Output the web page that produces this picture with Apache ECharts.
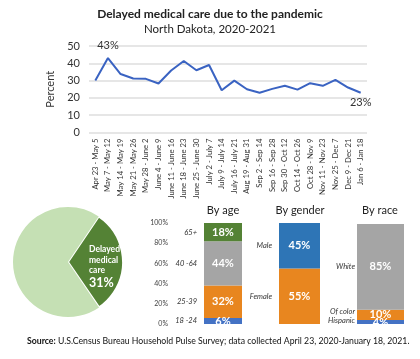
<!DOCTYPE html>
<html><head><meta charset="utf-8">
<script src="https://cdn.jsdelivr.net/npm/echarts@6/dist/echarts.min.js"></script>
<style>html,body{margin:0;padding:0;background:#fff}#c{width:420px;height:359px}</style>
</head><body><div id="c"></div>
<script>
const weeks = ["Apr 23 - May 5","May 7 - May 12","May 14 - May 19","May 21 - May 26","May 28 - June 2","June 4 - June 9","June 11 - June 16","June 18 - June 23","June 25 - June 30","July 2 - July 7","July 9 - July 14","July 16 - July 21","Aug 19 - Aug 31","Sep 2 - Sep 14","Sep 16 - Sep 28","Sep 30 - Oct 12","Oct 14 - Oct 26","Oct 28 - Nov 9","Nov 11 - Nov 23","Nov 25 - Dec 7","Dec 9 - Dec 21","Jan 6 - Jan 18"];
const delayedPct = [30, 43, 33.8, 31.2, 31, 28.3, 35.8, 41.3, 36, 39, 24.4, 30, 25, 23, 25.2, 27, 24.8, 28.5, 27, 30.4, 26, 23];
const labeledPoints = [1, 21];
const yTicks = [0, 10, 20, 30, 40, 50];

const pieNames = ["Delayed medical care", "Not delayed"];
const pieValues = [31, 69];

const ageGroups = ["18 -24", "25-39", "40 -64", "65+"];
const ageValues = [6, 32, 44, 18];
const genderGroups = ["Female", "Male"];
const genderValues = [55, 45];
const raceGroups = ["Hispanic", "Of color", "White"];
const raceValues = [4, 10, 85];
const pctTicks = [0, 20, 40, 60, 80, 100];

const F = 'Lato, "Open Sans", sans-serif';
const ageColors = ['#4472c4', '#e8861f', '#a5a5a5', '#548235'];
const genderColors = ['#e8861f', '#2e75b6'];
const raceColors = ['#4472c4', '#e8861f', '#a5a5a5'];

const chart = echarts.init(document.getElementById('c'), null, {renderer: 'canvas'});

const barGrids = [
  {left: 204, width: 38},
  {left: 279, width: 41},
  {left: 357, width: 47}
];
const groups = [
  {names: ageGroups, vals: ageValues, colors: ageColors, dist: 7, offs: [0,0,0,0]},
  {names: genderGroups, vals: genderValues, colors: genderColors, dist: 7, offs: [0,0]},
  {names: raceGroups, vals: raceValues, colors: raceColors, dist: 2, offs: [-1,-3,0]}
];

const grid = [{left: 89, right: 53, top: 46, height: 86.5}];
const xAxis = [{
  gridIndex: 0, type: 'category', data: weeks, boundaryGap: true,
  axisLine: {show: false}, axisTick: {show: false},
  axisLabel: {rotate: 90, fontSize: 7.7, fontFamily: F, color: '#333', margin: 6, interval: 0}
}];
const yAxis = [{
  gridIndex: 0, type: 'value', min: yTicks[0], max: yTicks[yTicks.length-1], interval: 10,
  name: 'Percent', nameLocation: 'middle', nameGap: 24, nameRotate: 90,
  nameTextStyle: {fontFamily: F, fontSize: 11, color: '#333'},
  axisLine: {show: false}, axisTick: {show: false},
  axisLabel: {fontFamily: F, fontSize: 11, color: '#333', margin: 9},
  splitLine: {lineStyle: {color: '#dedede', width: 1.5}}
}];
const series = [{
  type: 'line', xAxisIndex: 0, yAxisIndex: 0,
  data: delayedPct.map((v, i) => labeledPoints.includes(i) ? {
    value: v,
    label: {show: true, position: i === 1 ? 'top' : 'bottom', distance: i === 1 ? 7 : 4,
      formatter: p => Math.round(p.value) + '%', fontFamily: F, fontSize: 11, color: '#333'}
  } : v),
  symbol: 'circle', symbolSize: 0.1, showSymbol: true,
  lineStyle: {color: '#3a63c2', width: 2}, itemStyle: {color: '#3a63c2'}
}, {
  type: 'pie', center: [68, 262], radius: 55, startAngle: 56, clockwise: true,
  silent: true,
  data: pieNames.map((n, i) => ({
    name: n, value: pieValues[i],
    itemStyle: {color: i === 0 ? '#548235' : '#c5e0b4', borderColor: '#fff', borderWidth: i === 0 ? 2 : 0},
    label: i === 0 ? {
      show: true, position: 'inside', offset: [6, 5],
      formatter: p => '{a|Delayed}\n{a|medical}\n{a|care}\n{b|' + p.value + '%}',
      rich: {
        a: {fontFamily: F, fontSize: 8.5, fontWeight: 'bold', color: '#fff', lineHeight: 10.5, align: 'left', width: 31},
        b: {fontFamily: F, fontSize: 12.5, fontWeight: 'bold', color: '#fff', lineHeight: 14, align: 'left', width: 31}
      }
    } : {show: false}
  })),
  labelLine: {show: false}
}];

groups.forEach((g, gi) => {
  const idx = gi + 1;
  grid.push({left: barGrids[gi].left, width: barGrids[gi].width, top: 223, height: 101});
  xAxis.push({gridIndex: idx, type: 'category', data: [''], show: false});
  yAxis.push({
    gridIndex: idx, type: 'value', min: pctTicks[0], max: pctTicks[pctTicks.length-1], interval: 20,
    show: gi === 0, axisLine: {show: false}, axisTick: {show: false}, splitLine: {show: false},
    axisLabel: {show: gi === 0, formatter: '{value}%', fontFamily: F, fontSize: 7, color: '#444', margin: 36}
  });
  g.names.forEach((n, k) => {
    series.push({
      type: 'bar', name: n, xAxisIndex: idx, yAxisIndex: idx, stack: 'v' + gi,
      barWidth: '100%', barGap: '-100%', data: [g.vals[k]],
      itemStyle: {color: g.colors[k]},
      label: {show: true, position: 'inside', formatter: p => p.value + '%',
        fontFamily: F, fontSize: 11, fontWeight: 'bold', color: '#fff'}
    });
  });
  g.names.forEach((n, k) => {
    series.push({
      type: 'bar', name: n + ' label', xAxisIndex: idx, yAxisIndex: idx, stack: 'l' + gi,
      barWidth: '100%', barGap: '-100%', data: [g.vals[k]], silent: true,
      itemStyle: {color: 'rgba(0,0,0,0)'},
      label: {show: true, position: 'left', distance: g.dist, offset: [0, g.offs[k]], formatter: n,
        fontFamily: F, fontSize: 7.5, fontStyle: 'italic', color: '#333'}
    });
  });
});

const T = (text, left, top, size, weight, extra) => Object.assign({
  text, left, top, padding: 0,
  textStyle: {fontFamily: F, fontSize: size, fontWeight: weight, color: '#222'}
}, extra || {});

const option = {
  animation: false,
  title: [
    T('Delayed medical care due to the pandemic', 'center', 8, 12, 'bold'),
    T('North Dakota, 2020-2021', 'center', 23, 11.5, 'normal'),
    T('By age', 223, 205, 11, 'normal', {textAlign: 'center'}),
    T('By gender', 300, 205, 11, 'normal', {textAlign: 'center'}),
    T('By race', 380, 205, 11, 'normal', {textAlign: 'center'}),
    {text: '{b|Source:} U.S.Census Bureau Household Pulse Survey; data collected April 23, 2020-January 18, 2021.',
      left: 27, top: 337, padding: 0,
      textStyle: {fontFamily: F, fontSize: 8.7, fontWeight: 'normal', color: '#111',
        rich: {b: {fontFamily: F, fontSize: 8.7, fontWeight: 'bold', color: '#111'}}}}
  ],
  grid, xAxis, yAxis, series
};
chart.setOption(option);
</script>
</body></html>
